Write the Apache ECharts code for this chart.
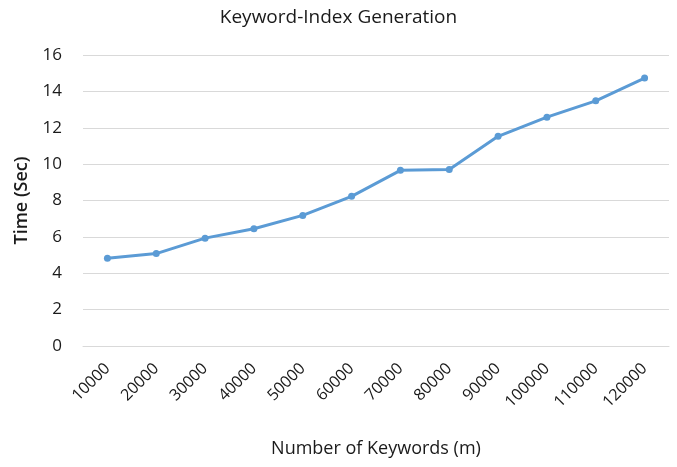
<!DOCTYPE html>
<html><head><meta charset="utf-8">
<script src="https://cdn.jsdelivr.net/npm/echarts@6/dist/echarts.min.js"></script>
<style>html,body{margin:0;padding:0;background:#fff}#c{width:677px;height:467px}</style>
</head><body><div id="c"></div>
<script>
const categories = ['10000','20000','30000','40000','50000','60000','70000','80000','90000','100000','110000','120000'];
const timeValues = [4.83, 5.08, 5.93, 6.45, 7.18, 8.23, 9.66, 9.71, 11.53, 12.58, 13.48, 14.73];
const yTicks = [0, 2, 4, 6, 8, 10, 12, 14, 16];
const FONT = '"Open Sans", "Liberation Sans", sans-serif';
const chart = echarts.init(document.getElementById('c'), null, {renderer: 'canvas'});
chart.setOption({
  animation: false,
  title: {text: 'Keyword-Index Generation', left: 'center', top: 3,
    textStyle: {fontFamily: FONT, fontSize: 19, fontWeight: 'normal', color: '#1a1a1a'}},
  grid: {left: 83, right: 8, top: 55, bottom: 121},
  xAxis: {type: 'category', data: categories, boundaryGap: true,
    axisLine: {show: true, lineStyle: {color: '#d9d9d9'}}, axisTick: {show: false},
    axisLabel: {rotate: 45, fontFamily: FONT, fontSize: 16, color: '#1a1a1a', margin: 20, interval: 0},
    name: 'Number of Keywords (m)', nameLocation: 'middle', nameGap: 94,
    nameTextStyle: {fontFamily: FONT, fontSize: 18, color: '#1a1a1a'}},
  yAxis: {type: 'value', min: yTicks[0], max: yTicks[yTicks.length-1], interval: 2,
    axisLine: {show: false}, axisTick: {show: false},
    splitLine: {lineStyle: {color: '#d9d9d9', width: 1}},
    axisLabel: {fontFamily: FONT, fontSize: 17, color: '#1a1a1a', margin: 21},
    name: 'Time (Sec)', nameLocation: 'middle', nameGap: 52,
    nameTextStyle: {fontFamily: FONT, fontSize: 18, fontWeight: 600, color: '#1a1a1a'}},
  series: [{type: 'line', data: timeValues, symbol: 'circle', symbolSize: 7,
    lineStyle: {color: '#5B9BD5', width: 3}, itemStyle: {color: '#5B9BD5'}}]
});
</script></body></html>
